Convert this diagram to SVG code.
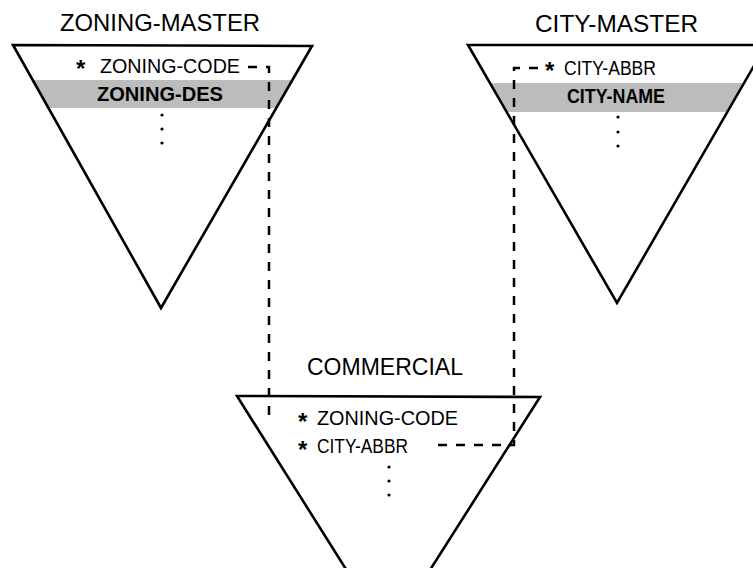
<svg xmlns="http://www.w3.org/2000/svg" width="753" height="568" viewBox="0 0 753 568">
<style>
.tri{fill:none;stroke:#000;stroke-width:2.6;stroke-linejoin:miter}
.band{fill:#bcbcbc}
.title{font-family:"Liberation Sans",Arial,sans-serif;font-size:24px;fill:#000}
.fld{font-family:"Liberation Sans",Arial,sans-serif;font-size:20px;fill:#000}
.bfld{font-family:"Liberation Sans",Arial,sans-serif;font-size:20px;font-weight:bold;fill:#000}
.ast{font-size:24px;font-weight:bold}
.dot{fill:#000}
.conn{fill:none;stroke:#000;stroke-width:2.5;stroke-dasharray:9 9}
</style>
<rect width="753" height="568" fill="#fff"/>
<g id="zoning-master">
<polygon class="band" points="33,80 292,80 276,108 49,108"/>
<polygon class="tri" points="13,45 312,46 161,308"/>
<text class="title" x="60" y="31" textLength="200" lengthAdjust="spacingAndGlyphs">ZONING-MASTER</text>
<text class="fld" x="76" y="73"><tspan class="ast" dy="4">*</tspan><tspan x="100" dy="-4" textLength="140" lengthAdjust="spacingAndGlyphs">ZONING-CODE</tspan></text>
<text class="bfld" x="97" y="101" textLength="126" lengthAdjust="spacingAndGlyphs">ZONING-DES</text>
<circle class="dot" cx="162" cy="115" r="1.6"/>
<circle class="dot" cx="162" cy="129" r="1.6"/>
<circle class="dot" cx="162" cy="143" r="1.6"/>
</g>
<g id="city-master">
<polygon class="band" points="490,83 744,83 727,112 507,112"/>
<polygon class="tri" points="468,45 766,45 617,303"/>
<text class="title" x="535" y="32" textLength="163" lengthAdjust="spacingAndGlyphs">CITY-MASTER</text>
<text class="fld" x="545" y="75"><tspan class="ast" dy="4">*</tspan><tspan x="564" dy="-4" textLength="92" lengthAdjust="spacingAndGlyphs">CITY-ABBR</tspan></text>
<text class="bfld" x="567" y="103" textLength="98" lengthAdjust="spacingAndGlyphs">CITY-NAME</text>
<circle class="dot" cx="618" cy="117" r="1.6"/>
<circle class="dot" cx="618" cy="132" r="1.6"/>
<circle class="dot" cx="618" cy="146" r="1.6"/>
</g>
<g id="commercial">
<polygon class="tri" points="237,396 540,397 388,636"/>
<text class="title" x="307" y="375" textLength="156" lengthAdjust="spacingAndGlyphs">COMMERCIAL</text>
<text class="fld" x="298" y="425"><tspan class="ast" dy="5">*</tspan><tspan x="317" dy="-5" textLength="141" lengthAdjust="spacingAndGlyphs">ZONING-CODE</tspan></text>
<text class="fld" x="298" y="453"><tspan class="ast" dy="5">*</tspan><tspan x="317" dy="-5" textLength="91" lengthAdjust="spacingAndGlyphs">CITY-ABBR</tspan></text>
<circle class="dot" cx="389" cy="467" r="1.6"/>
<circle class="dot" cx="389" cy="481" r="1.6"/>
<circle class="dot" cx="389" cy="495" r="1.6"/>
</g>
<g id="connectors">
<path class="conn" d="M248,67 H269 V415 H276"/>
<path class="conn" d="M538,68 H514 V445 H437"/>
</g>
</svg>
